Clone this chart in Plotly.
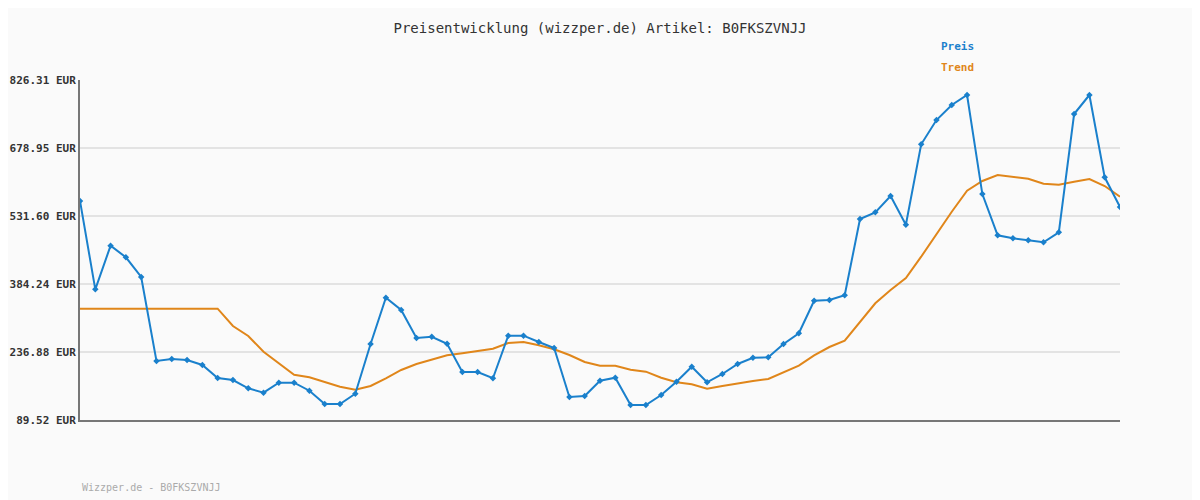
import plotly.graph_objects as go

preis = [564.1, 372.7, 467.2, 442.1, 399.4, 217.4, 221.7, 219.5, 208.7, 180.5,
         176.2, 158.2, 148.7, 170.3, 170.3, 153.0, 124.2, 124.2, 146.5, 254.2,
         354.5, 327.9, 267.2, 270.0, 254.8, 193.5, 193.5, 179.9, 272.2, 272.2,
         258.5, 245.5, 139.3, 141.5, 174.7, 181.2, 122.0, 122.0, 143.7, 172.5,
         205.0, 171.2, 189.2, 210.9, 224.5, 225.4, 254.2, 277.4, 348.0, 349.5,
         359.7, 525.1, 539.6, 574.9, 512.7, 686.9, 739.6, 772.1, 793.8, 579.2,
         489.7, 483.2, 478.9, 474.6, 496.2, 752.6, 793.8, 615.4, 551.1]
trend = [330.7] * 10 + [
         293.2, 271.5, 237.5, 212.4, 187.7, 182.0, 171.2, 161.7, 155.2, 163.2,
         179.9, 197.9, 210.9, 221.0, 229.7, 234.0, 239.7, 244.0, 256.4, 258.5,
         251.4, 242.7, 230.4, 215.2, 207.2, 207.2, 198.5, 194.2, 181.2, 171.2,
         166.9, 157.3, 163.2, 169.0, 174.0, 178.3, 192.0, 207.2, 229.7, 247.7,
         261.3, 301.2, 342.4, 371.2, 397.2, 443.4, 491.9, 540.9, 586.4, 607.4,
         620.4, 616.7, 612.4, 601.6, 599.4, 605.9, 611.7, 596.6, 573.4]
tick_vals = [89.52, 236.88, 384.24, 531.60, 678.95, 826.31]
tick_text = ["<b>%.2f EUR</b>" % v for v in tick_vals]
x = list(range(len(preis)))

blue = "#1a80cc"
orange = "#e0861a"
mono = "DejaVu Sans Mono"

fig = go.Figure()
fig.add_trace(go.Scatter(x=x, y=trend, mode="lines", line=dict(color=orange, width=2)))
fig.add_trace(go.Scatter(x=x, y=preis, mode="lines+markers",
                         line=dict(color=blue, width=2),
                         marker=dict(symbol="diamond", size=5, color=blue)))

# page is shifted 8px by the body margin, so margins compensate
fig.update_layout(
    width=1200, height=500, showlegend=False,
    paper_bgcolor="#fafafa", plot_bgcolor="#fafafa",
    margin=dict(l=72, r=88, t=72, b=88, autoexpand=False),
    font=dict(family=mono, size=11, color="#333"),
    title=dict(text="Preisentwicklung (wizzper.de) Artikel: B0FKSZVNJJ",
               x=(600 - 8) / 1200, xanchor="center", y=1 - 20 / 500, yanchor="middle",
               font=dict(family=mono, size=14, color="#333")),
)
fig.update_xaxes(range=[0, len(preis) - 1], showgrid=False, showticklabels=False,
                 zeroline=False, showline=True, linecolor="#777", linewidth=2)
fig.update_yaxes(range=[tick_vals[0], tick_vals[-1]], tickvals=tick_vals, ticktext=tick_text,
                 automargin=False, ticks="", ticklabelstandoff=0,
                 showgrid=True, gridcolor="#e3e3e3", gridwidth=2, zeroline=False,
                 showline=True, linecolor="#777", linewidth=2,
                 tickfont=dict(family=mono, size=11, color="#333"))

fig.add_annotation(text="<b>Preis</b>", x=939, y=38, xref="paper", yref="paper", showarrow=False,
                   font=dict(color=blue, size=11, family=mono), xanchor="left")
fig.add_annotation(text="<b>Trend</b>", x=939, y=59, xref="paper", yref="paper", showarrow=False,
                   font=dict(color=orange, size=11, family=mono), xanchor="left")
fig.add_annotation(text="Wizzper.de - B0FKSZVNJJ", x=80, y=495, xref="paper", yref="paper",
                   showarrow=False, font=dict(color="#aaa", size=10, family=mono), xanchor="left")

# convert pixel positions of the annotations into paper coordinates
for a in fig.layout.annotations:
    a.x = (a.x - 80) / 1040
    a.y = (420 - a.y) / 340

fig.write_html("out.html")
